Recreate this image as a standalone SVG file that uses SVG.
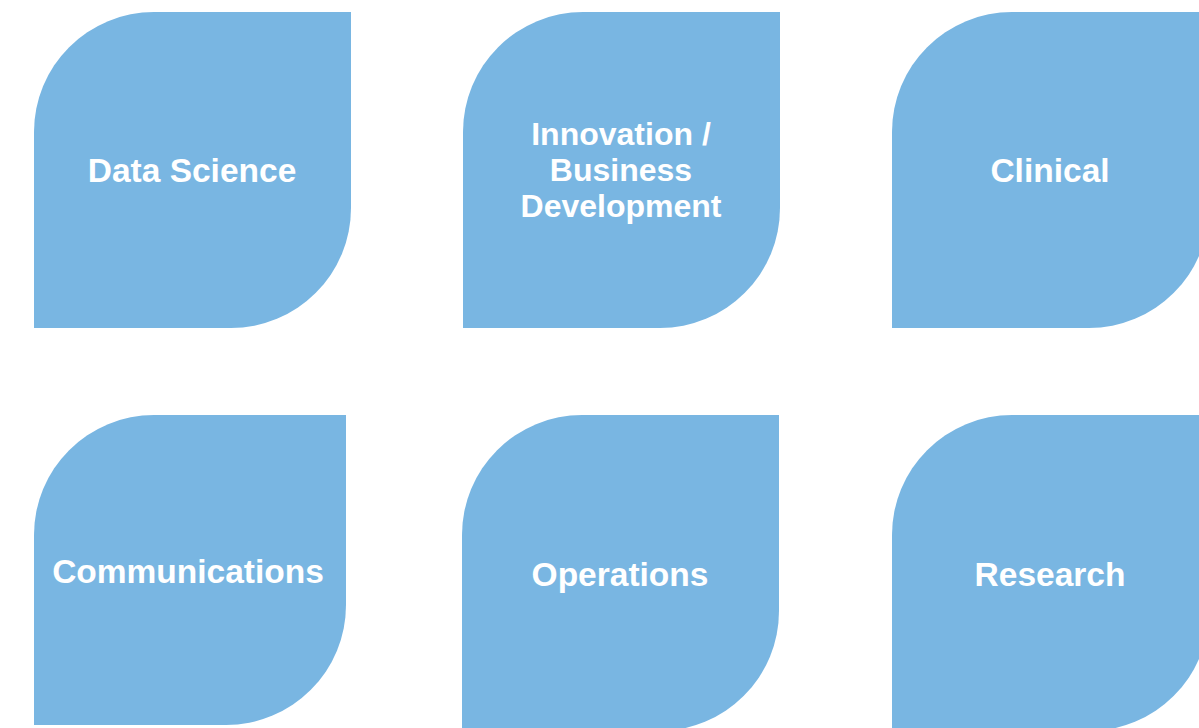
<svg xmlns="http://www.w3.org/2000/svg" width="1199" height="728" viewBox="0 0 1199 728">
<style>
.leaf{fill:#79b6e2;}
.lbl{fill:#ffffff;font-family:"Liberation Sans",Arial,sans-serif;font-weight:bold;font-size:33.5px;text-anchor:middle;}
.sm{font-size:32px;}
</style>
<rect width="1199" height="728" fill="#ffffff"/>
<g id="connectors"></g>
<g id="node-data-science">
<path class="leaf" d="M34 328 L34 132 A120 120 0 0 1 154 12 L351 12 L351 208 A120 120 0 0 1 231 328 Z"/>
<text class="lbl" x="192" y="182">Data Science</text>
</g>
<g id="node-innovation">
<path class="leaf" d="M463 328 L463 132 A120 120 0 0 1 583 12 L780 12 L780 208 A120 120 0 0 1 660 328 Z"/>
<text class="lbl sm" x="621" y="145">Innovation /</text>
<text class="lbl sm" x="621" y="181">Business</text>
<text class="lbl sm" x="621" y="217">Development</text>
</g>
<g id="node-clinical">
<path class="leaf" d="M892 328 L892 132 A120 120 0 0 1 1012 12 L1209 12 L1209 208 A120 120 0 0 1 1089 328 Z"/>
<text class="lbl" x="1050" y="182">Clinical</text>
</g>
<g id="node-communications">
<path class="leaf" d="M34 725 L34 535 A120 120 0 0 1 154 415 L346 415 L346 605 A120 120 0 0 1 226 725 Z"/>
<text class="lbl" x="188" y="583">Communications</text>
</g>
<g id="node-operations">
<path class="leaf" d="M462 731 L462 535 A120 120 0 0 1 582 415 L779 415 L779 611 A120 120 0 0 1 659 731 Z"/>
<text class="lbl" x="620" y="586">Operations</text>
</g>
<g id="node-research">
<path class="leaf" d="M892 731 L892 535 A120 120 0 0 1 1012 415 L1209 415 L1209 611 A120 120 0 0 1 1089 731 Z"/>
<text class="lbl" x="1050" y="586">Research</text>
</g>
</svg>
